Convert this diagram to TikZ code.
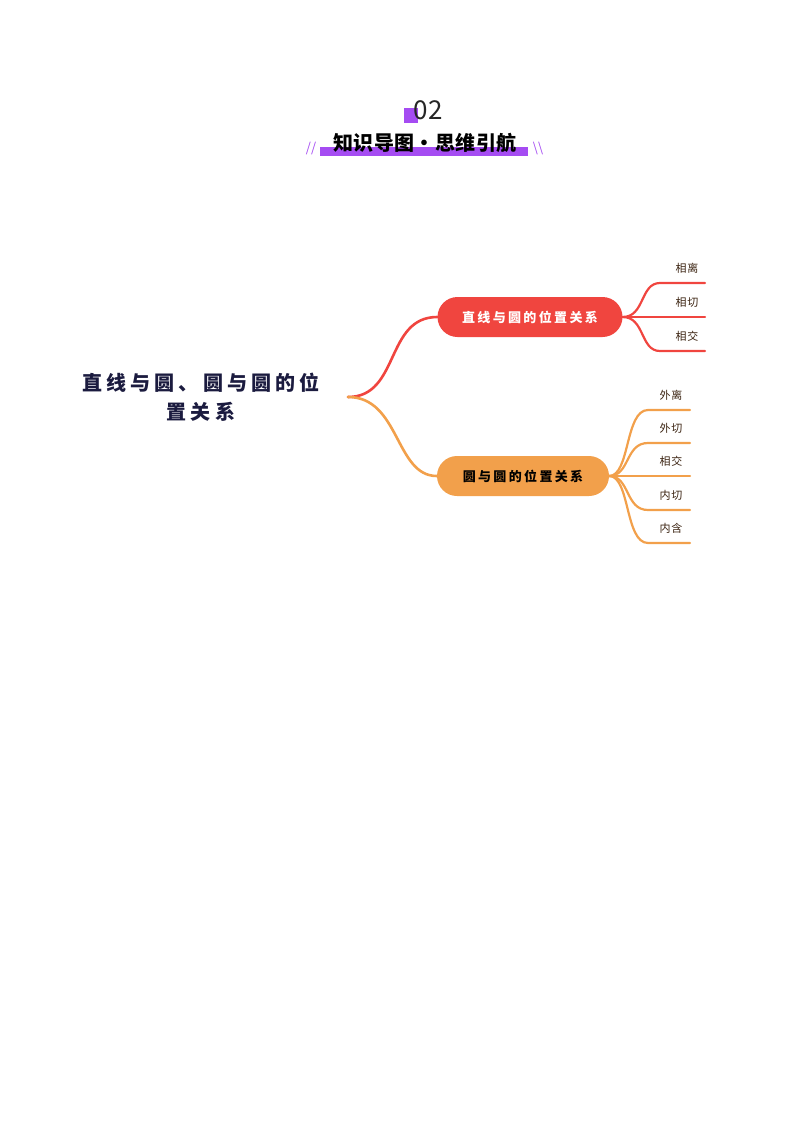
\documentclass[tikz,border=0pt]{standalone}
\usepackage{fontspec}
\setmainfont{Noto Sans CJK SC}
\definecolor{mapred}{HTML}{F0453F}
\definecolor{maporange}{HTML}{F2A04B}
\definecolor{mappurple}{HTML}{A54CF2}
\definecolor{mapnavy}{HTML}{1B1B3F}
\definecolor{leafbrown}{HTML}{3A2210}
\tikzset{
  pill/.style={rounded corners=20pt, minimum height=40pt, inner sep=0pt, font=\bfseries\fontsize{13}{13}\selectfont\addfontfeature{LetterSpace=18}},
  branch/.style={draw=#1, line width=2.6pt, line cap=round},
  twig/.style={draw=#1, line width=2.2pt, line cap=round},
  leaf/.style={text=leafbrown, font=\fontsize{11}{11}\selectfont\addfontfeature{LetterSpace=8}, inner sep=0pt}
}
\begin{document}
\begin{tikzpicture}[x=1pt, y=-1pt]
            \useasboundingbox (0,0) rectangle (800,1132);

            % heading
            \fill[mappurple] (404,108) rectangle (418,123);
            \node[font=\fontsize{26}{26}\selectfont, text=black!85] (num) at (428,110) {02};
            \fill[mappurple] (320,147) rectangle (528,156);
            \node[font=\bfseries\fontsize{20}{20}\selectfont\addfontfeature{LetterSpace=2}] (title) at (425,143) {知识导图·思维引航};
            \node[text=mappurple, font=\fontsize{13}{13}\selectfont] (lslash) at (311,149) {//};
            \node[text=mappurple, font=\fontsize{13}{13}\selectfont] (rslash) at (538,149) {\textbackslash\textbackslash};

            % root
            \node[text=mapnavy, align=center, font=\bfseries\fontsize{20}{29}\selectfont\addfontfeature{LetterSpace=21}] (root) at (201,397) {直线与圆、圆与圆的位\\置关系};
            \coordinate (rootend) at (348,397);

            % branches
            \node[pill, minimum width=185pt, fill=mapred, text=white] (line) at (530,317) {直线与圆的位置关系};
            \node[pill, minimum width=172pt, fill=maporange, text=black] (circ) at (523,476) {圆与圆的位置关系};

            \draw[branch=mapred] (rootend) .. controls (400,397) and (385,317) .. (line.west);
            \draw[branch=maporange] (rootend) .. controls (400,397) and (395,476) .. (circ.west);

            % leaves
            \foreach \y/\t [count=\i] in {283/相离, 317/相切, 351/相交} {
              \coordinate (la\i) at (660,\y);
              \coordinate (lb\i) at (705,\y);
              \node[leaf] (lt\i) at (687,\y-15) {\t};
              \draw[twig=mapred] (line.east) .. controls (645,317) and (640,\y) .. (la\i) -- (lb\i);
            }
            \foreach \y/\t [count=\i] in {410/外离, 443/外切, 476/相交, 510/内切, 543/内含} {
              \coordinate (ca\i) at (648,\y);
              \coordinate (cb\i) at (690,\y);
              \node[leaf] (ct\i) at (671,\y-15) {\t};
              \draw[twig=maporange] (circ.east) .. controls (630,476) and (625,\y) .. (ca\i) -- (cb\i);
            }
        \end{tikzpicture}
\end{document}
